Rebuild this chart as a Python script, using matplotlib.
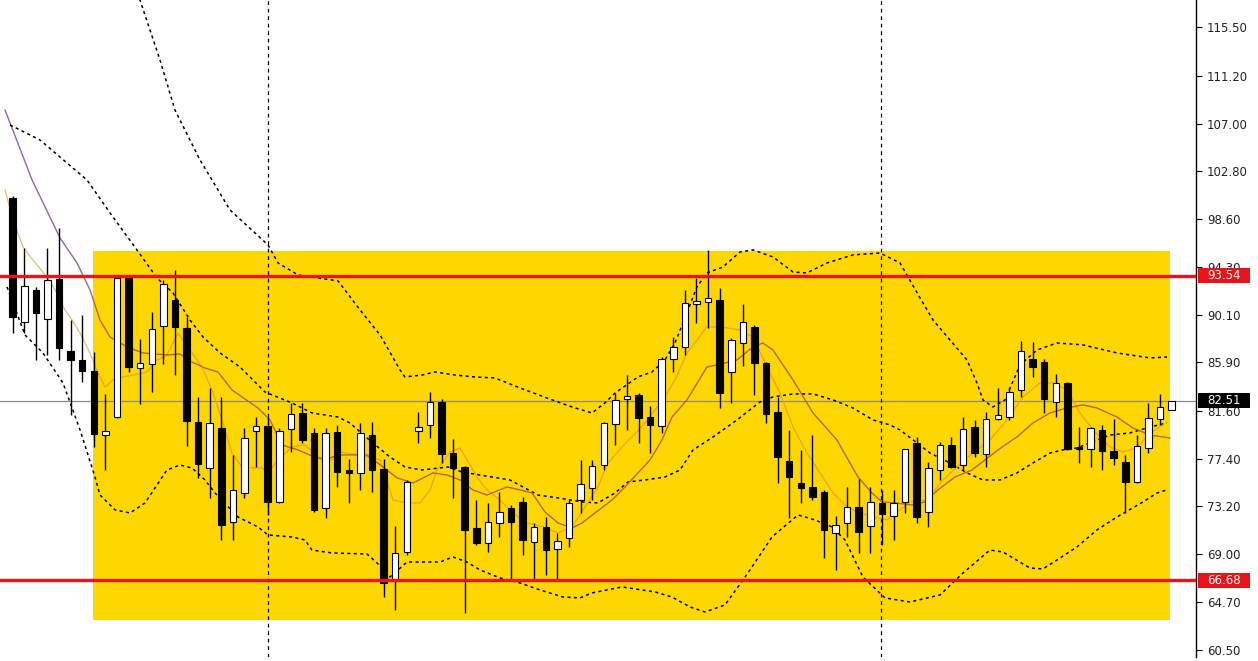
import matplotlib
matplotlib.use("Agg")
import matplotlib.pyplot as plt
from matplotlib.patches import Rectangle
from matplotlib.transforms import blended_transform_factory
import numpy as np

# ---------------- data ----------------
opens = [100.43, 89.48, 92.30, 89.74, 93.27, 86.91, 86.12, 85.15, 79.49, 81.08,
         93.36, 85.41, 85.77, 89.12, 91.42, 88.95, 80.64, 76.58, 80.11, 71.81,
         74.37, 79.85, 80.29, 73.58, 80.02, 81.44, 79.67, 73.05, 79.76, 76.40,
         76.14, 79.49, 76.49, 66.68, 69.16, 79.85, 80.38, 82.41, 77.90, 76.67,
         71.28, 69.95, 71.72, 73.05, 73.58, 70.04, 71.37, 69.42, 70.40, 73.75,
         74.81, 76.84, 80.47, 82.67, 83.03, 81.08, 80.29, 86.21, 87.27, 91.07,
         91.24, 91.42, 85.06, 87.62, 89.04, 85.85, 81.53, 77.20, 75.25, 74.90,
         74.46, 70.84, 71.72, 73.13, 71.46, 73.49, 72.34, 73.58, 78.79, 72.69,
         76.40, 78.61, 76.84, 80.20, 77.82, 80.91, 81.08, 83.47, 86.21, 85.94,
         82.41, 84.09, 78.43, 78.26, 79.94, 78.08, 77.11, 75.34, 78.35, 80.91,
         81.70]
highs = [100.60, 96.01, 92.57, 96.01, 97.78, 89.65, 90.10, 86.83, 83.12, 93.54,
         93.54, 87.97, 90.36, 93.19, 94.07, 89.92, 82.85, 83.65, 82.85, 77.73,
         80.11, 81.08, 81.08, 80.11, 82.32, 82.32, 80.11, 80.11, 80.38, 77.37,
         80.55, 80.64, 77.37, 71.46, 75.52, 81.53, 83.29, 82.67, 79.14, 76.76,
         73.75, 73.49, 74.46, 73.31, 74.02, 71.72, 72.25, 70.84, 73.75, 77.29,
         77.29, 80.64, 83.20, 84.79, 83.20, 82.06, 86.38, 88.15, 92.30, 93.36,
         95.84, 92.48, 88.06, 91.07, 89.21, 85.94, 82.85, 79.94, 78.17, 79.49,
         74.64, 72.34, 74.90, 75.61, 74.90, 74.64, 74.64, 78.26, 79.32, 77.11,
         78.88, 79.32, 81.08, 80.82, 81.53, 83.65, 83.65, 87.80, 87.71, 86.21,
         84.88, 84.18, 80.20, 80.20, 80.38, 80.91, 77.73, 79.49, 82.32, 83.12,
         82.51]
lows = [88.50, 88.50, 86.12, 86.56, 86.12, 81.26, 84.18, 78.43, 76.40, 80.99,
        85.06, 82.23, 83.29, 85.77, 84.79, 78.50, 75.70, 73.93, 70.22, 70.22,
        73.93, 76.67, 72.43, 73.49, 77.99, 78.79, 72.69, 72.16, 74.90, 73.49,
        74.64, 74.46, 65.18, 64.03, 68.89, 78.79, 79.23, 77.02, 73.93, 63.77,
        69.78, 69.16, 70.48, 66.68, 68.89, 66.68, 67.13, 66.68, 69.60, 72.60,
        73.75, 76.40, 78.61, 79.94, 78.79, 77.90, 79.67, 85.06, 86.56, 89.39,
        88.95, 81.88, 82.32, 85.59, 83.03, 80.55, 75.25, 72.16, 73.49, 73.75,
        68.63, 67.57, 70.48, 69.07, 69.07, 69.78, 70.22, 72.60, 71.72, 71.37,
        75.52, 76.58, 76.40, 77.55, 76.67, 80.82, 80.82, 82.85, 84.62, 81.44,
        81.08, 78.17, 77.02, 76.67, 76.40, 76.84, 72.60, 75.25, 77.90, 80.38,
        81.70]
closes = [89.92, 92.66, 90.27, 93.19, 87.18, 86.12, 85.15, 79.58, 79.85, 93.36,
          85.50, 85.85, 88.86, 92.83, 89.04, 80.73, 76.93, 80.55, 71.54, 74.64,
          79.23, 80.29, 73.58, 79.85, 81.35, 79.05, 72.87, 79.67, 76.22, 76.14,
          79.67, 76.40, 66.42, 69.07, 75.34, 80.20, 82.41, 77.82, 76.58, 71.10,
          69.95, 71.81, 72.69, 71.81, 70.22, 71.37, 69.33, 70.13, 73.49, 75.17,
          76.76, 80.55, 82.59, 82.94, 80.99, 80.38, 86.21, 87.27, 91.15, 91.33,
          91.60, 83.20, 87.89, 89.48, 85.85, 81.35, 77.55, 75.78, 74.81, 74.02,
          71.10, 71.54, 73.13, 70.93, 73.58, 72.52, 73.49, 78.26, 72.25, 76.58,
          78.61, 76.67, 80.02, 77.90, 80.91, 81.26, 83.29, 86.91, 85.50, 82.67,
          84.09, 78.26, 78.26, 80.11, 78.08, 77.46, 75.34, 78.52, 80.99, 81.97,
          82.51]

# Bollinger bands (dashed), read as (bar position, price)
bb_mid_x = [-0.23, 2.36, 6.41, 8.40, 10.72, 12.45, 13.83, 15.30, 16.42, 17.89,
            19.61, 21.77, 24.10, 25.82, 28.07, 29.10, 30.57, 32.55, 33.85, 35.32,
            37.56, 38.77, 41.35, 42.91, 45.32, 47.05, 49.12, 50.50, 51.97, 53.09,
            54.55, 56.28, 57.58, 58.70, 60.43, 62.49, 64.48, 65.60, 67.33, 69.05,
            70.78, 72.50, 74.23, 75.70, 76.56, 78.03, 79.15, 80.87, 82.34, 83.72,
            85.19, 86.65, 88.03, 89.50, 90.62, 91.83, 92.95, 94.68, 96.40, 98.13,
            99.59]
bb_mid_y = [106.88, 105.55, 102.02, 99.11, 95.84, 93.36, 92.04, 89.65, 88.15, 86.74,
            85.50, 83.29, 82.32, 81.44, 81.08, 80.55, 79.23, 77.55, 76.67, 76.40,
            76.67, 76.22, 75.78, 75.52, 74.19, 73.93, 73.58, 73.49, 74.37, 75.34,
            75.52, 75.78, 76.40, 78.17, 79.32, 80.82, 82.41, 82.85, 83.12, 83.12,
            82.59, 81.88, 80.82, 80.38, 79.94, 78.79, 77.90, 77.02, 76.14, 75.52,
            75.52, 76.14, 77.02, 77.90, 78.17, 78.35, 78.79, 79.49, 79.67, 80.20,
            80.55]
bb_up_x = [-1.0, 3.0, 6.0, 8.0, 10.0, 10.98, 12.71, 14.00, 16.16, 18.75,
           22.03, 22.89, 24.62, 28.07, 29.97, 31.70, 33.42, 33.85, 35.32, 36.44,
           38.16, 39.89, 41.61, 43.77, 46.10, 48.26, 49.98, 51.10, 51.97, 53.95,
           55.16, 56.28, 57.14, 57.83, 59.04, 59.90, 61.28, 62.75, 63.87, 65.60,
           67.33, 68.53, 70.26, 72.50, 74.83, 76.56, 78.29, 79.41, 80.87, 82.34,
           83.20, 83.72, 84.58, 85.62, 86.91, 88.38, 90.10, 92.35, 95.28, 98.13,
           99.60]
bb_up_y = [121.0, 124.0, 126.0, 126.5, 121.0, 117.92, 112.62, 108.20, 103.79, 99.37,
           96.28, 94.69, 93.63, 93.10, 90.54, 88.33, 85.24, 84.62, 84.79, 85.06,
           84.79, 84.62, 84.53, 83.65, 82.76, 81.97, 81.44, 82.32, 83.20, 84.62,
           85.06, 86.12, 87.62, 89.39, 92.57, 93.81, 94.33, 95.66, 95.84, 95.22,
           93.89, 93.81, 94.69, 95.40, 95.57, 94.69, 91.60, 89.65, 87.89, 86.12,
           84.09, 82.59, 81.97, 82.59, 85.68, 87.00, 87.62, 87.45, 86.74, 86.30,
           86.38]
bb_lo_x = [-0.49, 1.06, 2.61, 4.34, 5.81, 7.10, 7.53, 8.84, 10.12, 11.42,
           13.31, 14.44, 15.47, 16.59, 17.46, 19.44, 21.16, 22.03, 24.10, 25.22,
           25.82, 27.55, 30.57, 31.44, 32.55, 34.02, 36.87, 37.99, 39.20, 40.32,
           42.05, 43.77, 45.50, 47.48, 48.95, 49.98, 52.57, 55.42, 56.88, 58.44,
           59.73, 61.46, 63.44, 65.51, 67.76, 69.22, 70.69, 71.81, 73.36, 75.26,
           77.42, 80.01, 82.00, 84.32, 85.44, 87.77, 88.89, 90.10, 91.83, 93.55,
           95.28, 97.53, 98.74, 99.60]
bb_lo_y = [92.57, 88.33, 86.74, 84.09, 79.94, 75.78, 74.19, 72.87, 72.60, 73.49,
           76.40, 76.84, 76.58, 75.52, 74.37, 72.25, 71.37, 70.66, 70.48, 70.22,
           69.33, 69.07, 68.98, 68.19, 66.95, 68.27, 68.27, 68.72, 68.27, 67.57,
           66.86, 66.42, 65.80, 65.18, 65.10, 65.54, 66.07, 65.63, 65.18, 64.30,
           63.86, 64.48, 67.30, 70.48, 72.43, 71.99, 71.37, 70.22, 66.95, 65.10,
           64.74, 65.36, 67.30, 69.33, 69.16, 67.74, 67.66, 68.45, 69.60, 71.10,
           72.25, 73.58, 74.37, 74.64]

# slow moving average (purple / brown)
ma_slow_x = [-0.66, 1.67, 4.08, 5.55, 6.67, 7.53, 8.40, 9.86, 11.24, 13.31,
             14.44, 15.47, 16.59, 17.71, 18.92, 20.04, 21.16, 22.20, 23.24, 24.62,
             25.82, 26.94, 28.07, 30.57, 31.95, 33.16, 34.54, 36.26, 37.47, 38.59,
             39.71, 40.92, 42.65, 43.77, 44.81, 45.93, 47.05, 48.26, 49.12, 50.24,
             51.71, 52.83, 53.95, 54.99, 56.02, 56.89, 58.18, 59.90, 60.77, 62.49,
             63.87, 64.73, 65.60, 67.33, 69.05, 71.12, 72.93, 74.14, 75.00, 76.13,
             77.59, 78.71, 79.83, 81.30, 82.77, 83.89, 85.36, 86.65, 88.03, 89.50,
             90.97, 92.35, 93.55, 95.28, 96.66, 98.13, 99.85]
ma_slow_y = [108.20, 102.02, 96.90, 94.69, 92.30, 89.65, 88.15, 87.27, 86.74, 86.56,
             86.65, 85.94, 85.41, 85.06, 83.47, 82.67, 81.88, 80.82, 78.61, 78.17,
             77.64, 77.29, 77.73, 77.73, 76.67, 75.70, 75.25, 76.14, 75.96, 75.52,
             74.64, 74.19, 74.90, 74.64, 74.37, 72.69, 71.72, 71.28, 71.72, 72.60,
             73.75, 74.90, 76.14, 77.29, 79.05, 81.08, 82.59, 85.50, 85.68, 86.12,
             87.27, 87.62, 87.00, 84.35, 81.44, 79.05, 75.79, 74.37, 73.58, 73.49,
             73.31, 73.58, 74.64, 75.78, 76.40, 77.29, 78.43, 79.32, 80.55, 81.44,
             81.88, 82.15, 81.88, 81.08, 80.11, 79.49, 79.23]

# fast moving average (orange)
ma_fast_x = [-0.66, 0.03, 0.89, 1.75, 2.96, 3.82, 4.51, 5.12, 5.81, 6.67,
             7.36, 7.96, 8.65, 9.52, 10.38, 11.59, 12.45, 13.31, 14.26, 15.12,
             16.33, 17.20, 18.06, 18.92, 19.78, 20.65, 21.51, 22.03, 22.89, 24.10,
             25.22, 26.34, 27.55, 28.24, 29.97, 31.70, 32.29, 32.81, 34.02, 35.14,
             36.01, 36.61, 37.73, 38.59, 39.20, 40.06, 40.92, 42.05, 43.17, 44.38,
             45.76, 47.05, 48.26, 49.38, 50.50, 51.36, 52.57, 53.43, 54.55, 55.42,
             56.28, 57.14, 58.18, 59.04, 59.90, 60.77, 61.63, 62.75, 63.87, 65.08,
             66.20, 67.33, 68.53, 69.66, 70.78, 71.99, 73.10, 74.23, 75.43, 77.42,
             78.89, 80.27, 81.48, 82.86, 84.32, 85.79, 87.17, 88.64, 89.76, 90.97,
             92.09, 93.22, 94.68, 95.80, 97.01, 98.13, 99.25]
ma_fast_y = [101.14, 98.49, 96.10, 94.95, 93.45, 92.04, 90.54, 89.65, 88.50, 86.74,
             84.97, 83.73, 84.35, 84.62, 84.79, 85.06, 86.12, 86.56, 88.50, 87.27,
             85.50, 83.47, 80.82, 77.90, 76.67, 76.58, 76.58, 76.14, 77.29, 78.43,
             78.61, 77.55, 77.29, 77.99, 77.73, 77.29, 75.52, 73.75, 73.49, 73.49,
             74.64, 76.40, 77.99, 78.35, 77.29, 75.78, 74.64, 73.75, 72.60, 71.72,
             71.37, 70.84, 71.37, 73.13, 74.90, 77.02, 78.43, 79.32, 80.55, 81.70,
             82.85, 84.35, 86.74, 87.89, 89.04, 89.04, 88.95, 88.77, 88.15, 85.50,
             83.20, 80.20, 77.90, 76.14, 74.37, 73.13, 72.60, 72.25, 71.99, 73.58,
             73.75, 75.52, 76.67, 77.90, 79.05, 80.82, 82.85, 84.09, 84.09, 83.47,
             81.44, 79.94, 78.43, 77.99, 78.35, 79.67, 80.38]

y_ticks = [115.50, 111.20, 107.00, 102.80, 98.60, 94.30, 90.10, 85.90,
           81.60, 77.40, 73.20, 69.00, 64.70, 60.50]
resistance = 93.54
support = 66.68
last_price = 82.51
zone_x = (6.95, 99.85)
zone_y = (63.15, 95.78)
v_lines = [22.03, 74.92]

# ---------------- figure ----------------
W, H = 1258, 661
fig = plt.figure(figsize=(W / 100, H / 100), dpi=100)
fig.patch.set_facecolor("white")
ax = fig.add_axes([0, 4 / H, 1196 / W, 1 - 4 / H])
ax.set_facecolor("white")
ax.set_xlim(-1.096, 102.1)
ax.set_ylim(59.88, 117.92)

for s in ["left", "top", "bottom"]:
    ax.spines[s].set_visible(False)
ax.spines["right"].set_color("black")
ax.spines["right"].set_linewidth(1.0)
ax.set_xticks([])
ax.yaxis.tick_right()
ax.set_yticks(y_ticks)
ax.set_yticklabels([f"{v:.2f}" for v in y_ticks])
ax.tick_params(axis="y", direction="out", length=4, width=0.8, pad=4,
               labelsize=8.5, labelcolor="#222222", color="black")

# yellow zone
zone = Rectangle((zone_x[0], zone_y[0]), zone_x[1] - zone_x[0], zone_y[1] - zone_y[0],
                 facecolor="#FFD700", edgecolor="none", zorder=0.5)
ax.add_patch(zone)

# current price line
ax.axhline(last_price, color="#8a8a8a", lw=0.9, zorder=1.5)

# vertical dashed separators
for vx in v_lines:
    ax.axvline(vx, color="black", lw=0.9, ls=(0, (3, 3)), zorder=1.6)

# Bollinger bands
for bx, by in [(bb_up_x, bb_up_y), (bb_mid_x, bb_mid_y), (bb_lo_x, bb_lo_y)]:
    ax.plot(bx, by, color="black", lw=1.1, ls=(0, (2.0, 2.2)), zorder=2)

# moving averages: colour on white vs. on yellow
ax.plot(ma_slow_x, ma_slow_y, color="#8c6aaa", lw=1.0, zorder=0.4)
l2, = ax.plot(ma_slow_x, ma_slow_y, color="#b8652a", lw=1.0, zorder=2.2)
l2.set_clip_path(zone)
ax.plot(ma_fast_x, ma_fast_y, color="#d9c07a", lw=0.9, zorder=0.4)
l4, = ax.plot(ma_fast_x, ma_fast_y, color="#eda22a", lw=0.9, zorder=2.1)
l4.set_clip_path(zone)

# candles
xs = np.arange(len(opens))
o = np.array(opens); c = np.array(closes)
hi = np.array(highs); lo = np.array(lows)
ax.vlines(xs, lo, hi, color="black", lw=1.0, zorder=3)
bottoms = np.minimum(o, c)
heights = np.maximum(np.abs(c - o), 0.08)
colors = ["white" if cc >= oo else "black" for oo, cc in zip(o, c)]
ax.bar(xs, heights, bottom=bottoms, width=0.56, color=colors,
       edgecolor="black", linewidth=0.8, zorder=4)

# support / resistance
ax.axhline(resistance, color="#e8141c", lw=2.4, zorder=6)
ax.axhline(support, color="#e8141c", lw=2.4, zorder=6)

# price boxes on the axis
trans = blended_transform_factory(ax.transAxes, ax.transData)
box_h = 15 / 11.32
for val, fc in [(resistance, "#e8141c"), (last_price, "black"), (support, "#e8141c")]:
    r = Rectangle((1.0017, val - box_h / 2), 0.0435, box_h, transform=trans,
                  facecolor=fc, edgecolor="none", clip_on=False, zorder=10)
    ax.add_patch(r)
    ax.text(1.0017 + 0.0435 / 2, val, f"{val:.2f}", transform=trans, ha="center",
            va="center", fontsize=8.5, color="white", zorder=11, clip_on=False)

fig.savefig("out.png", dpi=100)
